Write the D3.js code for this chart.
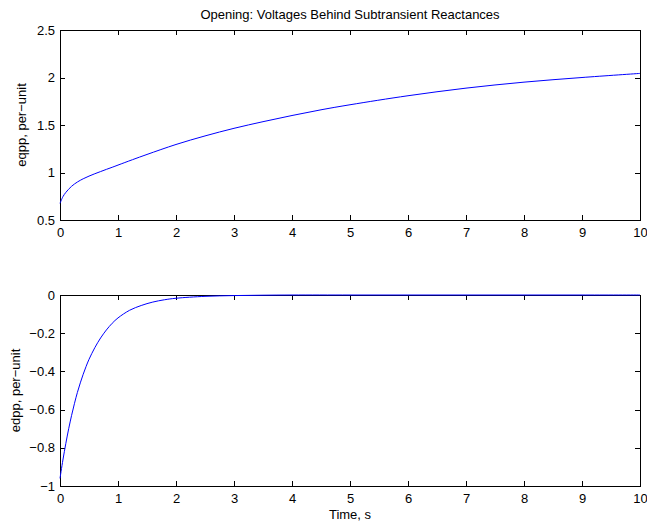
<!DOCTYPE html>
<meta charset="utf-8">
<style>
body { margin: 0; background: #fff; }
svg { display: block; }
text { font-family: "Liberation Sans", Arial, sans-serif; fill: #000; }
.axis text { font-size: 13px; }
.axis path, .axis line { fill: none; stroke: #000; stroke-width: 1; shape-rendering: crispEdges; }
.curve { fill: none; stroke: #0000ff; stroke-width: 1; }
</style>
<body>
<script src="https://cdn.jsdelivr.net/npm/d3@7"></script>
<script>

// time samples (s) and values
var eqppTime = [0, 0.05, 0.1, 0.2, 0.3, 0.4, 0.5, 0.6, 0.7, 0.8, 0.9, 1, 1.25, 1.5, 2, 2.5, 3, 3.5, 4, 4.5, 5, 6, 7, 8, 9, 10];
var eqppVals = [0.675, 0.745, 0.79, 0.855, 0.9, 0.934, 0.962, 0.987, 1.01, 1.033, 1.055, 1.078, 1.135, 1.19, 1.295, 1.385, 1.465, 1.535, 1.60, 1.66, 1.713, 1.808, 1.888, 1.951, 2.0, 2.043];

var edppTime = [0, 0.05, 0.1, 0.15, 0.2, 0.25, 0.3, 0.35, 0.4, 0.45, 0.5, 0.6, 0.7, 0.8, 0.9, 1, 1.2, 1.4, 1.6, 1.8, 2, 2.5, 3, 3.5, 4, 5, 6, 7, 8, 9, 10];
var edppVals = [-0.96, -0.864, -0.778, -0.70, -0.63, -0.567, -0.51, -0.46, -0.415, -0.374, -0.337, -0.276, -0.225, -0.183, -0.148, -0.12, -0.08, -0.055, -0.037, -0.025, -0.017, -0.007, -0.003, -0.001, 0, 0, 0, 0, 0, 0, 0];

var xTicks = [0, 1, 2, 3, 4, 5, 6, 7, 8, 9, 10];
var eqppTicks = [0.5, 1, 1.5, 2, 2.5];
var edppTicks = [-1, -0.8, -0.6, -0.4, -0.2, 0];

var titleText = "Opening: Voltages Behind Subtransient Reactances";
var xLabel = "Time, s";

var W = 647, H = 523;
var left = 60, right = 640;

var svg = d3.select("body").append("svg")
    .attr("width", W)
    .attr("height", H);

function fmt(d) { return String(d).replace("-", "\u2212"); }

function panel(top, bottom, times, vals, yTicks, yLabel, labelX) {
  var x = d3.scaleLinear().domain([0, 10]).range([left, right]);
  var y = d3.scaleLinear().domain([yTicks[0], yTicks[yTicks.length - 1]]).range([bottom, top]);

  var g = svg.append("g");

  g.append("g").attr("class", "axis")
      .attr("transform", "translate(0," + bottom + ")")
      .call(d3.axisBottom(x).tickValues(xTicks).tickFormat(fmt).tickSizeInner(-5).tickSizeOuter(0).tickPadding(8));
  g.append("g").attr("class", "axis")
      .attr("transform", "translate(0," + top + ")")
      .call(d3.axisTop(x).tickValues(xTicks).tickFormat("").tickSizeInner(-5).tickSizeOuter(0));
  g.append("g").attr("class", "axis")
      .attr("transform", "translate(" + left + ",0)")
      .call(d3.axisLeft(y).tickValues(yTicks).tickFormat(fmt).tickSizeInner(-5).tickSizeOuter(0).tickPadding(5));
  g.append("g").attr("class", "axis")
      .attr("transform", "translate(" + right + ",0)")
      .call(d3.axisRight(y).tickValues(yTicks).tickFormat("").tickSizeInner(-5).tickSizeOuter(0));

  var line = d3.line()
      .x(function(d, i) { return x(times[i]); })
      .y(function(d) { return y(d); })
      .curve(d3.curveCatmullRom.alpha(0.5));

  g.append("path")
      .datum(vals)
      .attr("class", "curve")
      .attr("d", line);

  g.append("text")
      .attr("transform", "translate(" + labelX + "," + ((top + bottom) / 2) + ") rotate(-90)")
      .attr("text-anchor", "middle")
      .style("font-size", "13px")
      .text(yLabel);
}

panel(30, 220, eqppTime, eqppVals, eqppTicks, "eqpp, per\u2212unit", 26);
panel(295, 486, edppTime, edppVals, edppTicks, "edpp, per\u2212unit", 20);

svg.append("text")
    .attr("x", (left + right) / 2)
    .attr("y", 19)
    .attr("text-anchor", "middle")
    .style("font-size", "13px")
    .text(titleText);

svg.append("text")
    .attr("x", (left + right) / 2)
    .attr("y", 519)
    .attr("text-anchor", "middle")
    .style("font-size", "13px")
    .text(xLabel);

</script>
